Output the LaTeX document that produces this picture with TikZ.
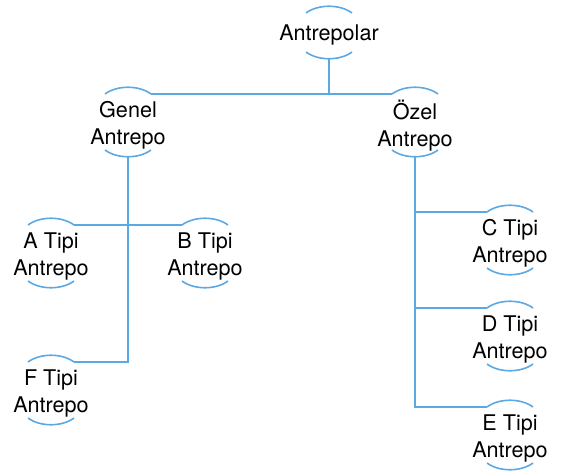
\documentclass[tikz,border=0pt]{standalone}
\usepackage{fontspec}
\setmainfont{TeX Gyre Heros}
\definecolor{linkblue}{RGB}{90,168,228}
\tikzset{
  conn/.style={draw=linkblue, line width=1.6pt},
  lbl/.style={align=center, inner sep=0pt, font=\fontsize{21.6}{27}\selectfont, text=black}
}
\newcommand\antnode[6]{%
  \node[lbl] (#1) at (#2,#3) {#4};
  \path (#1.center) ++(-23,-#5) coordinate (#1-tl) ++(46,0) coordinate (#1-tr);
  \path (#1.center) ++(-23,#6) coordinate (#1-bl) ++(46,0) coordinate (#1-br);
  \path (#1.center) ++(0,#6+7) coordinate (#1-b);
  \draw[conn] (#1-tl) .. controls +(12,-9) and +(-12,-9) .. (#1-tr);
  \draw[conn] (#1-bl) .. controls +(12,9) and +(-12,9) .. (#1-br);
}
\begin{document}
\begin{tikzpicture}[x=1pt, y=-1pt]
\useasboundingbox (0,0) rectangle (562,471);
\antnode{root}{329}{34.5}{Antrepolar}{21.5}{17.5}
\antnode{genel}{128}{125.5}{Genel\\Antrepo}{31.5}{24.5}
\antnode{ozel}{415}{125.5}{Özel\\Antrepo}{31.5}{24.5}
\antnode{A}{51}{256.5}{A Tipi\\Antrepo}{31.5}{24.5}
\antnode{B}{205}{256.5}{B Tipi\\Antrepo}{31.5}{24.5}
\antnode{F}{51}{393.5}{F Tipi\\Antrepo}{31.5}{24.5}
\antnode{C}{510}{243.5}{C Tipi\\Antrepo}{31.5}{24.5}
\antnode{D}{510}{339.5}{D Tipi\\Antrepo}{31.5}{24.5}
\antnode{E}{510}{438.5}{E Tipi\\Antrepo}{31.5}{24.5}
% root branches
\draw[conn] (root-b) -- (root-b |- genel-tr);
\draw[conn] (genel-tr) -- (ozel-tl);
% genel branches
\draw[conn] (genel-b) |- (F-tr);
\draw[conn] (A-tr) -- (B-tl);
% ozel branches
\draw[conn] (ozel-b) |- (E-tl);
\draw[conn] (ozel-b |- C-tl) -- (C-tl);
\draw[conn] (ozel-b |- D-tl) -- (D-tl);
\end{tikzpicture}
\end{document}
